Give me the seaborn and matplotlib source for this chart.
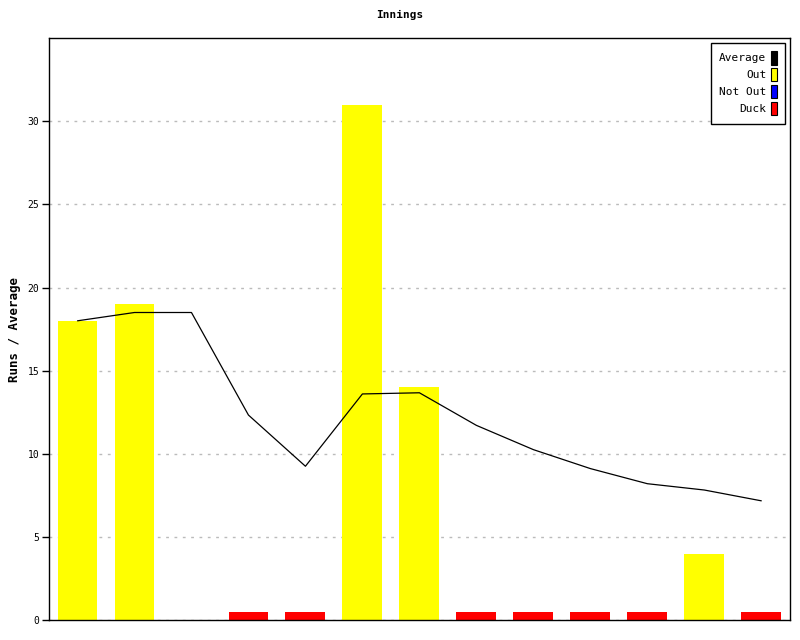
import numpy as np
import pandas as pd
import matplotlib
matplotlib.use("Agg")
import matplotlib.pyplot as plt
from matplotlib.patches import Patch
import seaborn as sns

# innings data
innings = list(range(1, 14))
runs = [18, 19, 0, 0, 0, 31, 14, 0, 0, 0, 0, 4, 0]
status = ["Out", "Out", "Not Out", "Duck", "Duck", "Out", "Out",
          "Duck", "Duck", "Duck", "Duck", "Out", "Duck"]
average = [18.0, 18.5, 18.5, 12.33, 9.25, 13.6, 13.67,
           11.71, 10.25, 9.11, 8.2, 7.82, 7.17]

colours = {"Average": "#000000", "Out": "#ffff00", "Not Out": "#0000ff", "Duck": "#ff0000"}

df = pd.DataFrame({"innings": innings, "runs": runs, "status": status, "average": average})
# ducks are drawn as a small stub so they show up
df["bar"] = np.where(df["status"] == "Duck", 0.5, df["runs"])
df["pos"] = np.arange(len(df))

sns.set_style("white")
plt.rcParams["font.family"] = ["DejaVu Sans Mono"]
plt.rcParams["text.color"] = "black"
plt.rcParams["axes.labelcolor"] = "black"
plt.rcParams["ytick.color"] = "black"
plt.rcParams["xtick.color"] = "black"

fig = plt.figure(figsize=(8, 6.4), dpi=100)
ax = fig.add_axes([0.06125, 0.03125, 0.926, 0.909])

sns.barplot(data=df, x="pos", y="bar", hue="status", palette=colours,
            dodge=False, width=0.7, legend=False, ax=ax, native_scale=True,
            linewidth=0, saturation=1)
sns.lineplot(data=df, x="pos", y="average", color="black", linewidth=0.9, ax=ax)

ax.set_xlim(-0.5, 12.5)
ax.set_ylim(0, 35)
ax.set_yticks([0, 5, 10, 15, 20, 25, 30])
ax.set_xticks([])
ax.yaxis.grid(True, color="#bbbbbb", linestyle=(0, (2, 4)), linewidth=1)
ax.set_axisbelow(True)
ax.tick_params(axis="y", labelsize=7, length=5, width=1, direction="out", left=True, pad=2)
for s in ax.spines.values():
    s.set_linewidth(1)
    s.set_color("black")
ax.set_xlabel("")
ax.set_ylabel("Runs / Average", fontsize=9, fontweight="bold", labelpad=5)
fig.suptitle("Innings", fontsize=8, fontweight="bold", y=0.985)

handles = [Patch(facecolor=colours[k], edgecolor="black", linewidth=0.8, label=k)
           for k in ["Average", "Out", "Not Out", "Duck"]]
leg = ax.legend(handles=handles, loc="upper right", markerfirst=False, fontsize=8,
                handlelength=0.55, handleheight=1.5, handletextpad=0.4,
                labelspacing=0.3, borderpad=0.75, fancybox=False, framealpha=1,
                edgecolor="black", borderaxespad=0.4)
for t in leg.get_texts():
    t.set_ha("right")
leg.get_frame().set_linewidth(1)

fig.savefig("out.png", dpi=100)
